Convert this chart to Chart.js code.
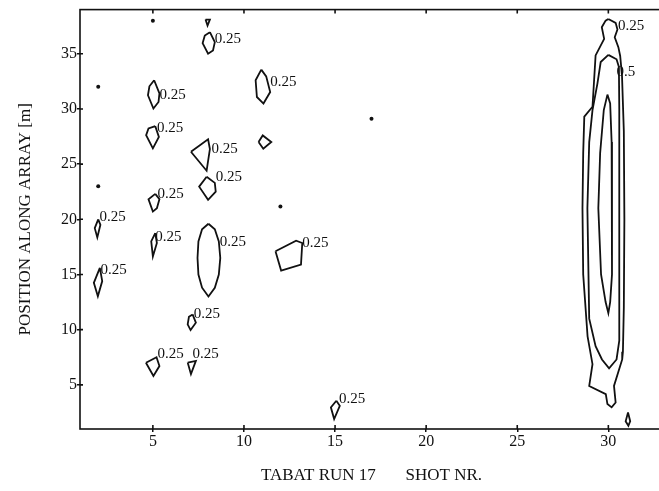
<!DOCTYPE html>
<html>
<head>
<meta charset="utf-8">
<script src="https://cdn.jsdelivr.net/npm/chart.js@4"></script>
<style>
  html, body { margin: 0; padding: 0; overflow: hidden; background: #fff; }
  #wrap { width: 667px; height: 491px; }
</style>
</head>
<body>
<div id="wrap"><canvas id="contours"></canvas></div>
<script>
// axis ticks
const xTicks = [5, 10, 15, 20, 25, 30];
const yTicks = [5, 10, 15, 20, 25, 30, 35];

// contour polygons, [shot nr, position m]
const c_2_19 = [[2.0, 20.0], [2.12, 19.5], [1.95, 18.36], [1.81, 19.2]];
const c_2_14 = [[2.09, 15.6], [2.22, 14.4], [1.98, 13.03], [1.76, 14.24]];
const c_5_31 = [[5.07, 32.6], [5.36, 31.4], [5.31, 30.63], [5.03, 30.04], [4.73, 31.24], [4.81, 32.05]];
const c_5_27 = [[5.13, 28.44], [5.33, 27.47], [5.0, 26.43], [4.63, 27.63], [4.76, 28.23]];
const c_5_21 = [[5.13, 22.3], [5.36, 21.82], [5.22, 21.0], [5.0, 20.7], [4.76, 21.82]];
const c_5_17 = [[5.13, 18.75], [5.22, 17.85], [5.0, 16.64], [4.91, 18.0]];
const c_5_6 = [[4.62, 7.0], [5.2, 7.5], [5.36, 6.7], [5.03, 5.8]];
const c_7_10 = [[7.18, 11.38], [7.36, 10.63], [7.07, 9.96], [6.91, 10.48], [6.98, 11.17]];
const c_7_6 = [[6.91, 7.02], [7.36, 7.17], [7.09, 5.97]];
const c_8_38 = [[7.89, 38.1], [8.13, 38.1], [8.0, 37.55]];
const c_8_36 = [[8.13, 36.95], [8.4, 36.05], [8.3, 35.3], [8.03, 35.0], [7.73, 35.96], [7.85, 36.65]];
const c_8_26 = [[7.09, 26.12], [8.03, 27.24], [8.13, 26.36], [7.95, 24.4]];
const c_8_23 = [[7.95, 23.86], [8.4, 23.3], [8.45, 22.5], [8.03, 21.76], [7.54, 22.96]];
const c_8_16 = [[8.05, 19.6], [8.4, 19.1], [8.62, 18.0], [8.7, 16.5], [8.62, 15.0], [8.4, 13.8], [8.05, 13.0],
                [7.7, 13.8], [7.5, 15.0], [7.45, 16.5], [7.5, 18.0], [7.7, 19.1]];
const c_11_32 = [[10.95, 33.56], [11.22, 32.95], [11.44, 31.53], [11.07, 30.49], [10.71, 31.08], [10.64, 32.6]];
const c_11_27 = [[10.8, 27.0], [11.03, 27.6], [11.5, 27.0], [11.06, 26.4]];
const c_13_16 = [[11.73, 17.1], [12.86, 18.06], [13.2, 17.85], [13.13, 15.9], [12.04, 15.35]];
const c_15_3 = [[15.07, 3.56], [15.26, 3.1], [14.95, 1.9], [14.77, 2.96]];
const c_31_2 = [[31.08, 2.5], [31.2, 1.7], [31.1, 1.3], [30.95, 1.7]];

// the big anomaly at shot 30: levels 0.25, 0.5 and the inner one
const c_30_outer = [[30.0, 38.15], [30.4, 37.8], [30.5, 37.2], [30.35, 36.5], [30.55, 35.6], [30.65, 34.8],
                    [30.75, 33.0], [30.85, 28.0], [30.88, 20.0], [30.85, 12.0], [30.8, 8.0], [30.76, 7.3],
                    [30.31, 4.9], [30.4, 3.4], [30.18, 2.96], [29.95, 3.26], [29.86, 4.16], [28.95, 4.9],
                    [29.13, 6.87], [28.86, 9.4], [28.62, 15.0], [28.58, 21.0], [28.62, 26.0], [28.68, 29.3],
                    [29.13, 30.2], [29.3, 34.85], [29.77, 36.35], [29.64, 37.4], [29.85, 38.0]];
const c_30_mid = [[30.0, 34.9], [30.45, 34.5], [30.58, 33.8], [30.6, 30.0], [30.6, 20.0], [30.6, 12.0],
                  [30.6, 9.0], [30.45, 7.3], [30.04, 6.5], [29.65, 7.3], [29.3, 8.5], [28.95, 11.0],
                  [28.85, 21.0], [28.95, 27.0], [29.13, 29.9], [29.4, 32.3], [29.58, 34.25]];
const c_30_inner = [[29.95, 31.3], [30.1, 30.5], [30.18, 27.0], [30.2, 21.0], [30.2, 15.0], [30.1, 12.5],
                    [30.0, 11.5], [29.85, 12.5], [29.6, 15.0], [29.45, 21.0], [29.55, 26.0], [29.75, 29.9]];

const contours = [c_2_19, c_2_14, c_5_31, c_5_27, c_5_21, c_5_17, c_5_6, c_7_10, c_7_6, c_8_38, c_8_36,
                  c_8_26, c_8_23, c_8_16, c_11_32, c_11_27, c_13_16, c_15_3, c_31_2,
                  c_30_outer, c_30_mid, c_30_inner];

// single-point spikes
const spikeX = [2, 5, 2, 12, 17];
const spikeY = [32, 38, 23, 21.15, 29.1];

// level labels: left end of text at [x, y]
const labelX = [8.4, 5.36, 11.44, 5.22, 8.22, 8.45, 5.25, 2.07, 2.12, 5.13, 8.67, 13.2, 7.25, 5.25, 7.18, 15.22, 30.53, 30.45];
const labelY = [36.37, 31.3, 32.4, 28.3, 26.36, 23.84, 22.3, 20.2, 15.4, 18.4, 17.9, 17.85, 11.4, 7.8, 7.8, 3.74, 37.55, 33.3];
const labelText = ["0.25", "0.25", "0.25", "0.25", "0.25", "0.25", "0.25", "0.25", "0.25", "0.25", "0.25",
                   "0.25", "0.25", "0.25", "0.25", "0.25", "0.25", "0.5"];

const INK = "#111";
const SERIF = "Liberation Serif";

const datasets = contours.map(poly => ({
  data: poly.concat([poly[0]]).map(([x, y]) => ({ x, y })),
  showLine: true,
  fill: false,
  borderColor: INK,
  borderWidth: 1.8,
  pointRadius: 0,
  tension: 0
}));
datasets.push({
  data: spikeX.map((x, i) => ({ x, y: spikeY[i] })),
  showLine: false,
  pointRadius: 2,
  pointBackgroundColor: INK,
  pointBorderWidth: 0
});

const frameAndLabels = {
  id: "frameAndLabels",
  afterDatasetsDraw(chart) {
    const { ctx, chartArea: a, scales: { x, y } } = chart;
    ctx.save();
    ctx.strokeStyle = INK;
    ctx.lineWidth = 1.6;
    ctx.strokeRect(a.left, a.top, a.right - a.left, a.bottom - a.top);
    ctx.beginPath();
    xTicks.forEach(v => {
      const px = x.getPixelForValue(v);
      ctx.moveTo(px, a.bottom); ctx.lineTo(px, a.bottom - 4);
      ctx.moveTo(px, a.top); ctx.lineTo(px, a.top + 4);
    });
    yTicks.forEach(v => {
      const py = y.getPixelForValue(v);
      ctx.moveTo(a.left, py); ctx.lineTo(a.left + 3, py);
    });
    ctx.stroke();
    ctx.fillStyle = INK;
    ctx.font = `15px "${SERIF}"`;
    ctx.textBaseline = "middle";
    ctx.textAlign = "left";
    labelText.forEach((t, i) => {
      ctx.fillText(t, x.getPixelForValue(labelX[i]), y.getPixelForValue(labelY[i]));
    });
    ctx.restore();
  }
};

new Chart(document.getElementById("contours"), {
  type: "scatter",
  data: { datasets },
  plugins: [frameAndLabels],
  options: {
    responsive: true,
    maintainAspectRatio: false,
    animation: false,
    layout: { padding: { top: 8, right: 0, bottom: 0, left: 0 } },
    plugins: { legend: { display: false }, tooltip: { enabled: false } },
    scales: {
      x: {
        type: "linear",
        min: 1,
        max: 33,
        afterBuildTicks: s => { s.ticks = xTicks.map(v => ({ value: v })); },
        afterFit: s => { s.height = 62; },
        grid: { drawOnChartArea: false, tickLength: 3, color: INK, lineWidth: 1.5 },
        border: { display: false },
        ticks: { color: INK, font: { family: SERIF, size: 16 }, padding: 0, maxRotation: 0 },
        title: {
          display: true,
          text: "TABAT RUN 17       SHOT NR.",
          color: INK,
          font: { family: SERIF, size: 17 },
          padding: { top: 0, bottom: 5 }
        }
      },
      y: {
        type: "linear",
        min: 1,
        max: 39,
        afterBuildTicks: s => { s.ticks = yTicks.map(v => ({ value: v })); },
        afterFit: s => { s.width = 80; },
        grid: { drawOnChartArea: false, tickLength: 3, color: INK, lineWidth: 1.5 },
        border: { display: false },
        ticks: { color: INK, font: { family: SERIF, size: 16 }, padding: 0 },
        title: {
          display: true,
          text: "POSITION ALONG ARRAY [m]",
          color: INK,
          font: { family: SERIF, size: 17 },
          padding: { top: 15, bottom: 0 }
        }
      }
    }
  }
});
</script>
</body>
</html>
